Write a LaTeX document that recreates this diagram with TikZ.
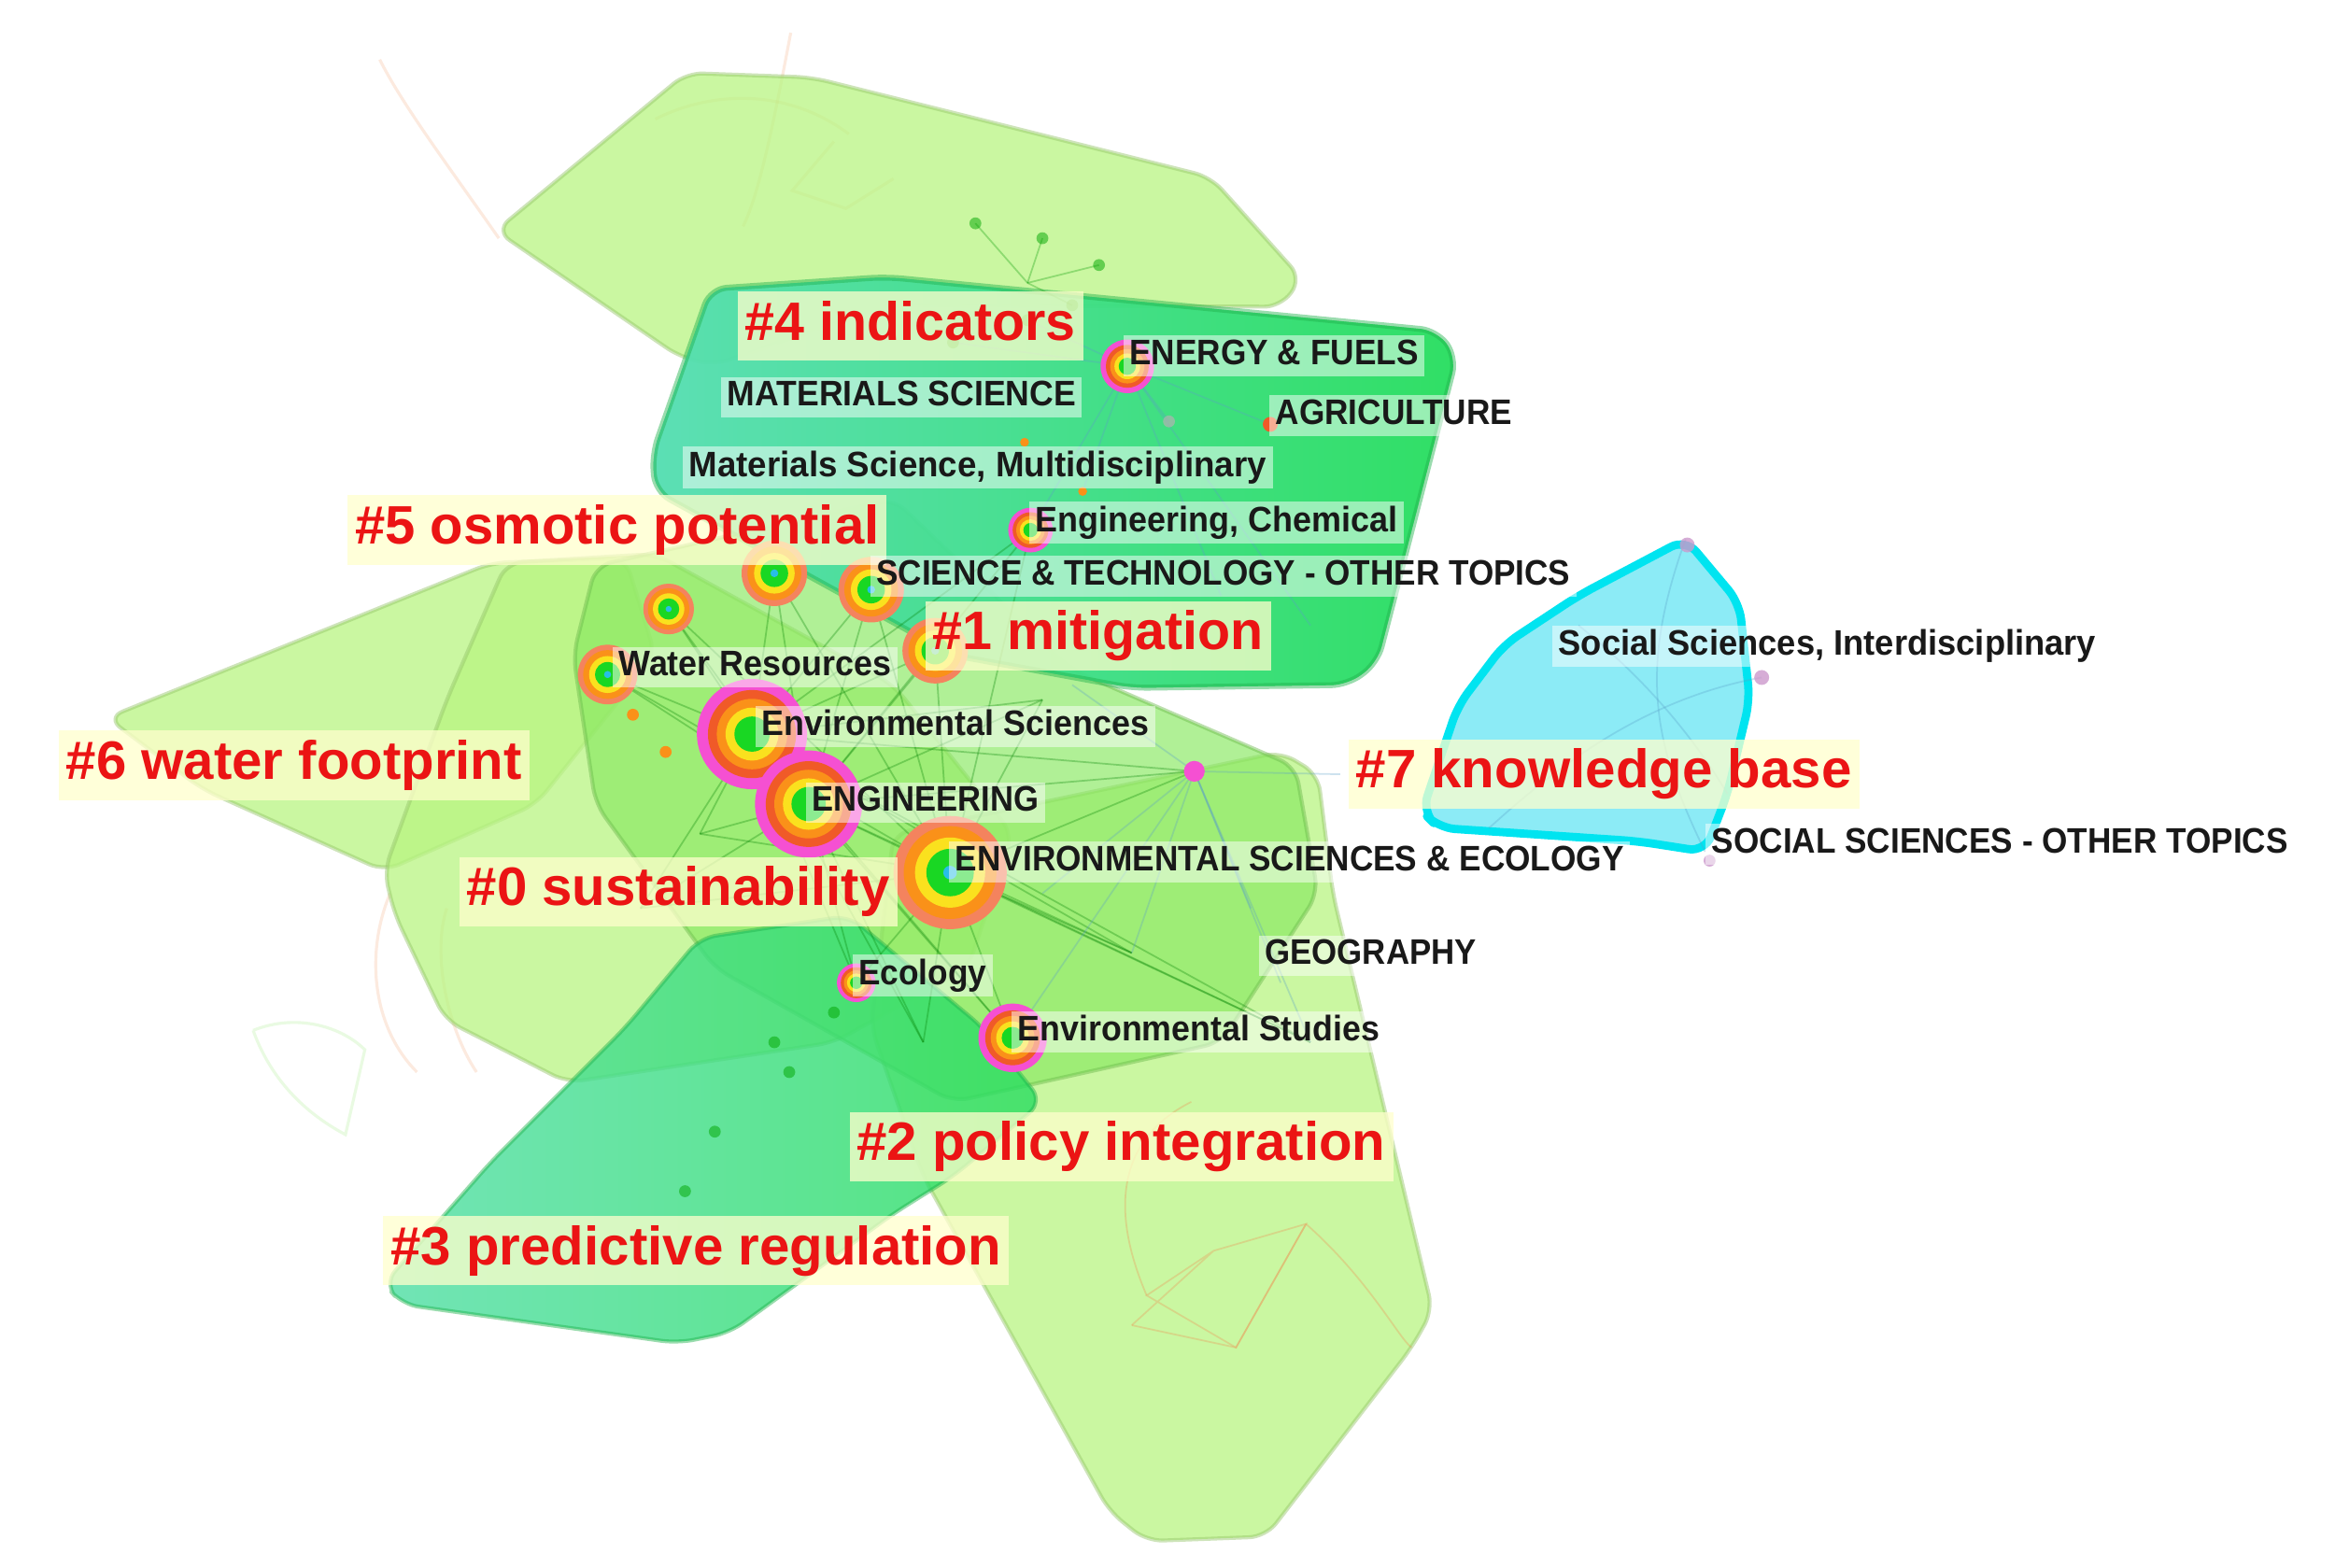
\documentclass[tikz,border=0pt]{standalone}
\usepackage{fontspec}
\setmainfont{Liberation Sans}
\usepackage{graphicx}
\newdimen\pxu \pxu=0.015944cm

\definecolor{cLight}{RGB}{185,245,130}
\definecolor{cMid}{RGB}{135,232,95}
\definecolor{cDark}{RGB}{40,222,95}
\definecolor{cTeal}{RGB}{95,222,195}
\definecolor{cCyan}{RGB}{0,228,240}
\definecolor{cCyanFill}{RGB}{120,232,245}
\definecolor{labred}{RGB}{235,20,20}
\definecolor{labbg}{RGB}{255,255,205}
\definecolor{rPink}{RGB}{245,80,210}
\definecolor{rRed}{RGB}{240,90,40}
\definecolor{rOrange}{RGB}{250,145,25}
\definecolor{rYellow}{RGB}{250,225,30}
\definecolor{rGreen}{RGB}{25,215,35}
\definecolor{rCyan}{RGB}{40,190,230}
\definecolor{eOrange}{RGB}{240,140,80}
\definecolor{eBlue}{RGB}{90,160,200}

\newcommand\treeN[3]{%
  \fill[rRed!75!white] (#1,#2) circle (#3);
  \fill[rOrange] (#1,#2) circle ({0.82*#3});
  \fill[rYellow] (#1,#2) circle ({0.62*#3});
  \fill[rGreen] (#1,#2) circle ({0.42*#3});
  \fill[rCyan] (#1,#2) circle ({0.12*#3});}
\newcommand\treeP[3]{%
  \fill[rPink] (#1,#2) circle (#3);
  \fill[rRed] (#1,#2) circle ({0.8*#3});
  \fill[rOrange] (#1,#2) circle ({0.64*#3});
  \fill[rYellow] (#1,#2) circle ({0.48*#3});
  \fill[rGreen] (#1,#2) circle ({0.32*#3});}
\newcommand\RL[5]{\node[redlab] (#1) at (#2-5,#3+2) {\resizebox{#4\pxu}{\height}{\vphantom{Ag}#5}};}
\newcommand\BL[5]{\node[blklab] (#1) at (#2-4,#3+1) {\resizebox{#4\pxu}{\height}{\vphantom{Ag}#5}};}

\begin{document}
\begin{tikzpicture}[x=0.015944cm,y=-0.015944cm,
  clus/.style={fill=#1, fill opacity=0.75, draw=#1!80!black, draw opacity=0.45, line width=1.2pt, rounded corners=5pt, line join=round},
  redlab/.style={anchor=west, fill=labbg, fill opacity=0.75, text opacity=1, text=labred,
     font=\fontsize{16.5}{18}\selectfont\bfseries, inner xsep=0.08cm, inner ysep=0.1cm},
  blklab/.style={anchor=west, fill=white, fill opacity=0.5, text opacity=1, text=black!90,
     font=\fontsize{10.8}{12}\selectfont\bfseries, inner xsep=0.065cm, inner ysep=0.045cm},
  faint/.style={draw=#1, draw opacity=0.18, line width=0.9pt},
  link/.style={draw=#1, draw opacity=0.3, line width=0.5pt}]
\useasboundingbox (0,0) rectangle (1568,1053);
\fill[white] (0,0) rectangle (1568,1053);

% faint outer arcs
\draw[faint=eOrange] (531,22) .. controls (520,80) and (510,130) .. (499,152);
\draw[faint=eOrange] (335,160) .. controls (300,110) and (270,70) .. (255,40);
\draw[faint=eOrange] (560,95) -- (532,128) -- (568,140) -- (600,120);
\draw[faint=eOrange] (440,80) .. controls (480,60) and (530,60) .. (570,90);
\draw[faint=eOrange] (262,600) .. controls (245,640) and (250,690) .. (280,720);
\draw[faint=cMid] (170,692) .. controls (200,680) and (230,690) .. (245,705) -- (232,762) .. controls (200,745) and (180,720) .. (170,692);
\draw[faint=eOrange] (320,720) .. controls (300,690) and (290,640) .. (300,610);

% cluster hulls
\path[clus=cLight] (333,155) -- (461,49) -- (545,52) -- (813,119) -- (874,187) -- (860,206) -- (595,205) -- (480,245) -- (457,240) -- cycle;
\path[clus=cLight] (72,482) -- (330,378) -- (420,375) -- (440,440) -- (360,540) -- (258,585) -- (136,530) -- cycle;
\path[clus=cLight] (258,585) -- (300,470) -- (340,378) -- (440,372) -- (600,460) -- (680,560) -- (650,650) -- (560,700) -- (381,727) -- (299,685) -- (265,614) -- cycle;
\path[clus=cLight] (600,560) -- (860,505) -- (885,520) -- (895,600) -- (962,880) -- (948,905) -- (850,1032) -- (770,1035) -- (745,1015) -- (620,790) -- (585,690) -- cycle;
\path[clus=cMid, fill opacity=0.65] (400,380) -- (600,335) -- (720,450) -- (870,515) -- (885,600) -- (820,700) -- (640,740) -- (480,650) -- (400,540) -- (385,440) -- cycle;
\path[clus=cDark, fill opacity=0.55, left color=cTeal, right color=cDark] (258,862) -- (330,780) -- (420,690) -- (470,630) -- (570,615) -- (660,690) -- (700,740) -- (640,790) -- (600,815) -- (490,895) -- (455,902) -- (270,876) -- cycle;
\path[clus=cDark, fill opacity=0.8, left color=cTeal, right color=cDark, line width=1.8pt] (477,194) -- (595,186) -- (965,222) -- (978,240) -- (925,445) -- (905,460) -- (760,462) -- (640,440) -- (440,330) -- (438,305) -- cycle;
\path[fill=cCyanFill, fill opacity=0.85, draw=cCyan, line width=2.5pt, rounded corners=5pt, line join=round]
  (1132,362) -- (1168,405) -- (1175,470) -- (1160,533) -- (1145,572) -- (1100,565) -- (966,556) -- (955,545) -- (979,474) -- (1010,433) -- (1060,400) -- cycle;

% links
\draw[link=eBlue] (1132,362) .. controls (1100,450) and (1110,500) .. (1145,572);
\draw[link=eBlue] (1183,455) .. controls (1100,470) and (1040,520) .. (1000,556);
\draw[link=eBlue] (1060,420) .. controls (1110,460) and (1140,500) .. (1160,533);
\draw[link=eOrange] (760,890) -- (815,840) -- (877,822) -- (830,905) -- (770,870) -- (815,840);
\draw[link=eOrange] (760,890) -- (830,905) -- (877,822);
\draw[link=eOrange] (770,870) .. controls (740,800) and (760,760) .. (800,740);
\draw[link=eOrange] (877,822) .. controls (920,860) and (940,900) .. (948,905);
\foreach \a/\b in {638/586, 505/493, 543/540}{
  \foreach \c/\d in {802/518, 680/697, 575/660, 408/453, 449/409, 520/385, 585/396, 628/437, 692/356, 760/640, 880/700, 430/610, 470/560, 700/470, 620/700}{
    \draw[link=green!50!black] (\a,\b) -- (\c,\d);}}
\foreach \c/\d in {680/697, 760/640, 880/700, 720/460, 900/520, 840/610, 700/600, 860/660}{
  \draw[link=eBlue] (802,518) -- (\c,\d);}
\foreach \c/\d in {692/356, 785/283, 853/285, 727/330, 640/230, 690/215, 880/420, 820/400}{
  \draw[link=eBlue] (757,246) -- (\c,\d);}
\foreach \c/\d in {700/160, 738/178, 720/205, 655/150}{
  \draw[link=green!60!black] (690,190) -- (\c,\d);}

% small nodes
\foreach \c/\d in {700/160, 738/178, 720/205, 655/150, 640/230, 690/215, 520/700, 480/760, 460/800, 560/680, 530/720}{
  \fill[green!65!black, opacity=0.5] (\c,\d) circle (4);}
\fill[gray!60, opacity=0.7] (785,283) circle (4);
\fill[violet!40, opacity=0.8] (1133,366) circle (5);
\fill[violet!40, opacity=0.8] (1183,455) circle (5);
\fill[violet!40, opacity=0.8] (1148,578) circle (4);

% cited nodes
\treeN{449}{409}{17}
\treeN{520}{385}{22}
\treeN{585}{396}{22}
\treeN{628}{437}{22}
\treeN{408}{453}{20}
\treeP{505}{493}{37}
\treeP{543}{540}{36}
\treeN{638}{586}{38}
\treeP{757}{246}{18}
\treeP{692}{356}{15}
\treeP{575}{660}{13}
\treeP{680}{697}{23}
\fill[rPink] (802,518) circle (7);
\fill[rRed] (853,285) circle (5);
\fill[rOrange] (425,480) circle (4);
\fill[rOrange] (447,505) circle (4);
\fill[rOrange] (727,330) circle (3);
\fill[rOrange] (688,297) circle (3);

% cluster labels
\RL{l4}{500}{217}{222}{\#4 indicators}
\RL{l5}{238}{354}{352}{\#5 osmotic potential}
\RL{l1}{626}{425}{222}{\#1 mitigation}
\RL{l6}{44}{512}{306}{\#6 water footprint}
\RL{l7}{910}{518}{333}{\#7 knowledge base}
\RL{l0}{313}{597}{284}{\#0 sustainability}
\RL{l2}{575}{768}{355}{\#2 policy integration}
\RL{l3}{262}{838}{410}{\#3 predictive regulation}

% category labels
\BL{b1}{758}{238}{194}{ENERGY \& FUELS}
\BL{b2}{488}{266}{234}{MATERIALS SCIENCE}
\BL{b3}{856}{278}{159}{AGRICULTURE}
\BL{b4}{462}{313}{388}{Materials Science, Multidisciplinary}
\BL{b5}{695}{350}{243}{Engineering, Chemical}
\BL{b6}{588}{386}{466}{SCIENCE \& TECHNOLOGY - OTHER TOPICS}
\BL{b7}{415}{447}{183}{Water Resources}
\BL{b8}{1046}{433}{361}{Social Sciences, Interdisciplinary}
\BL{b9}{511}{487}{260}{Environmental Sciences}
\BL{b10}{545}{538}{152}{ENGINEERING}
\BL{b11}{641}{578}{449}{ENVIRONMENTAL SCIENCES \& ECOLOGY}
\BL{b12}{1149}{566}{387}{SOCIAL SCIENCES - OTHER TOPICS}
\BL{b13}{849}{641}{142}{GEOGRAPHY}
\BL{b14}{576}{654}{86}{Ecology}
\BL{b15}{683}{692}{243}{Environmental Studies}
\end{tikzpicture}
\end{document}
